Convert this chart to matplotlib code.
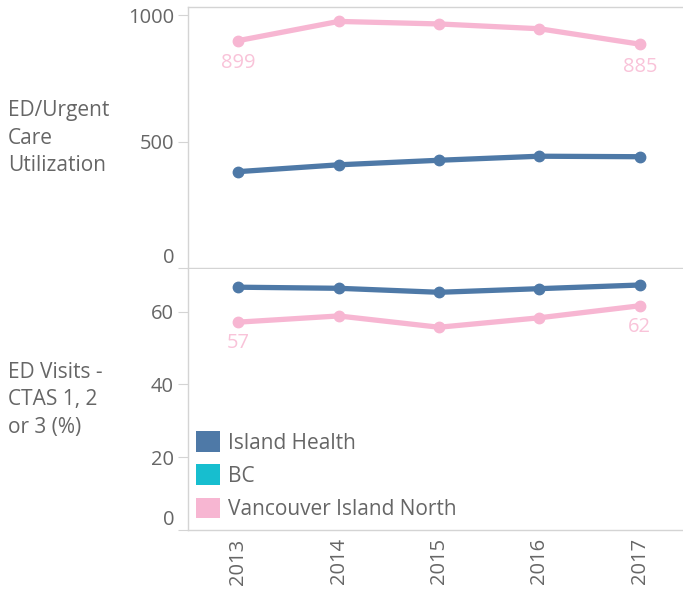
import matplotlib
matplotlib.use("Agg")
import matplotlib.pyplot as plt
from matplotlib.patches import Patch

years = ["2013", "2014", "2015", "2016", "2017"]
util_island_health = [381, 408, 426, 442, 440]
util_vin = [899, 975, 965, 946, 885]
ctas_island_health = [66.7, 66.4, 65.3, 66.3, 67.3]
ctas_vin = [57.1, 58.8, 55.7, 58.3, 61.6]
legend_labels = ["Island Health", "BC", "Vancouver Island North"]

C_IH = "#4e79a7"
C_BC = "#17becf"
C_VIN = "#f7b6d2"
C_LBL = "#f9c3d9"
GREY = "#666666"
EDGE = "#d4d4d4"
FS = 15
FT = 14.5

plt.rcParams['font.family'] = ['Open Sans', 'DejaVu Sans']

fig = plt.figure(figsize=(6.83, 5.91), dpi=100)
ax1 = fig.add_axes([188/683, 1-268/591, 1-188/683, 261/591])
ax2 = fig.add_axes([188/683, 1-530/591, 1-188/683, 261/591])

x = list(range(len(years)))

for ax in (ax1, ax2):
    ax.set_xlim(-0.5, 4.43)
    ax.spines["right"].set_visible(False)
    for s in ["left", "top", "bottom"]:
        ax.spines[s].set_color(EDGE)
        ax.spines[s].set_linewidth(1.0)
    ax.tick_params(axis='y', colors=EDGE, labelcolor=GREY, labelsize=FT,
                   length=7, width=0.8, pad=3)
    ax.tick_params(axis='x', length=0, labelcolor=GREY, labelsize=FT, pad=6)

# top panel
ax1.plot(x, util_vin, color=C_VIN, lw=3.8, marker='o', ms=7.5, solid_capstyle='round')
ax1.plot(x, util_island_health, color=C_IH, lw=3.8, marker='o', ms=7.5, solid_capstyle='round')
ax1.set_ylim(0, 1032)
ax1.set_yticks([0, 500, 1000])
ax1.set_xticks(x)
ax1.set_xticklabels([])
ax1.annotate(f"{util_vin[0]}", (x[0], util_vin[0]), xytext=(0, -9), textcoords='offset points',
             ha='center', va='top', color=C_LBL, fontsize=FT)
ax1.annotate(f"{util_vin[-1]}", (x[-1], util_vin[-1]), xytext=(0, -9), textcoords='offset points',
             ha='center', va='top', color=C_LBL, fontsize=FT)

# bottom panel
ax2.plot(x, ctas_island_health, color=C_IH, lw=3.8, marker='o', ms=7.5, solid_capstyle='round')
ax2.plot(x, ctas_vin, color=C_VIN, lw=3.8, marker='o', ms=7.5, solid_capstyle='round')
ax2.set_ylim(0, 71.7)
ax2.set_yticks([0, 20, 40, 60])
ax2.set_xticks(x)
ax2.set_xticklabels(years, rotation=90)
ax2.spines["top"].set_visible(False)
ax2.annotate(f"{round(ctas_vin[0])}", (x[0], ctas_vin[0]), xytext=(0, -8), textcoords='offset points',
             ha='center', va='top', color=C_LBL, fontsize=FT)
ax2.annotate(f"{round(ctas_vin[-1])}", (x[-1], ctas_vin[-1]), xytext=(0, -8), textcoords='offset points',
             ha='center', va='top', color=C_LBL, fontsize=FT)

for ax in (ax1, ax2):
    lbls = ax.get_yticklabels()
    lbls[0].set_va('bottom')

handles = [Patch(facecolor=c, edgecolor='none') for c in (C_IH, C_BC, C_VIN)]
leg = ax2.legend(handles, legend_labels, loc='lower left', bbox_to_anchor=(8/495, 10/261),
                 frameon=False, fontsize=FS, handlelength=1.15, handleheight=1.15,
                 handletextpad=0.4, labelspacing=0.52, borderaxespad=0, borderpad=0)
for t in leg.get_texts():
    t.set_color(GREY)

fig.text(8/683, 1-138/591, "ED/Urgent\nCare\nUtilization", ha='left', va='center',
         color=GREY, fontsize=FS, linespacing=1.4)
fig.text(8/683, 1-400/591, "ED Visits -\nCTAS 1, 2\nor 3 (%)", ha='left', va='center',
         color=GREY, fontsize=FS, linespacing=1.4)

fig.savefig("out.png", dpi=100)
